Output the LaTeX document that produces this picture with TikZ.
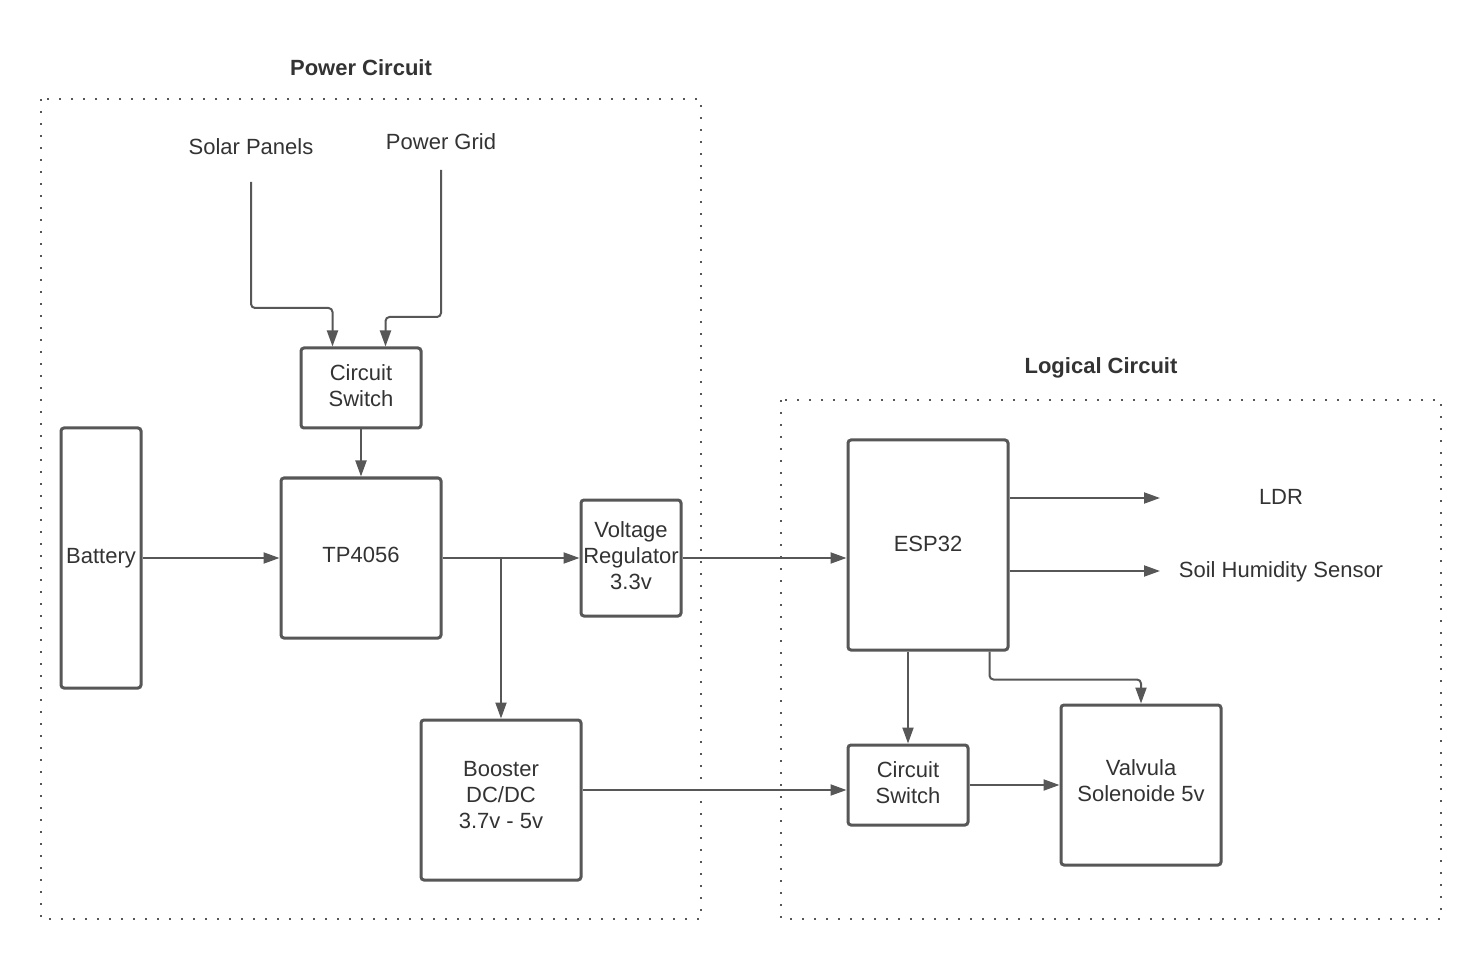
\documentclass[tikz,border=0pt]{standalone}
\usepackage{fontspec}
\setmainfont{Liberation Sans}
\usetikzlibrary{arrows.meta}
\definecolor{lc}{HTML}{575757}
\definecolor{tc}{HTML}{333333}
\newcommand{\liftlines}[2]{\raisebox{#1}[\height][\depth]{\begin{tabular}{@{}c@{}}#2\end{tabular}}}
\begin{document}
\begin{tikzpicture}[x=0.5pt,y=-0.5pt,
  blk/.style={draw=lc,line width=1.5pt,rounded corners=1.5pt,inner sep=0pt,align=center,
              font=\fontsize{11}{13}\selectfont,text=tc},
  lbl/.style={inner sep=0pt,font=\fontsize{11}{13}\selectfont,text=tc},
  ttl/.style={inner sep=0pt,font=\bfseries\fontsize{11}{13}\selectfont,text=tc},
  con/.style={draw=lc,line width=1pt,-{Triangle[length=8pt,width=5.5pt]}},
  grp/.style={draw=lc,line width=1pt,dash pattern=on 0.9pt off 5.1pt}]
\fill[white] (0,0) rectangle (1483,962);
\useasboundingbox (0,0) rectangle (1483,962);

% groups
\draw[grp] (41,99) rectangle (701,919);
\draw[grp] (781,400) rectangle (1441,919);
\node[ttl] (tpow) at (361,68) {Power Circuit};
\node[ttl] (tlog) at (1101,368) {Logical Circuit};

% sources
\node[lbl] (sp) at (251,147) {Solar Panels};
\node[lbl] (pg) at (441,142) {Power Grid};
\coordinate (spend) at (251,182);
\coordinate (pgend) at (441,170);

% blocks
\node[blk,minimum width=60pt,minimum height=40pt] (cs1) at (361,388) {\liftlines{0pt}{Circuit\\Switch}};
\node[blk,minimum width=80pt,minimum height=80pt] (tp) at (361,558) {\liftlines{0.5pt}{TP4056}};
\node[blk,minimum width=40pt,minimum height=130pt] (bat) at (101,558) {Battery};
\node[blk,minimum width=50pt,minimum height=58pt] (vr) at (631,558) {\liftlines{0pt}{Voltage\\Regulator\\3.3v}};
\node[blk,minimum width=80pt,minimum height=80pt] (boost) at (501,800) {\liftlines{1.5pt}{Booster\\DC/DC\\3.7v - 5v}};
\node[blk,minimum width=80pt,minimum height=105pt] (esp) at (928,545) {\liftlines{-0.5pt}{ESP32}};
\node[blk,minimum width=60pt,minimum height=40pt] (cs2) at (908,785) {\liftlines{0pt}{Circuit\\Switch}};
\node[blk,minimum width=80pt,minimum height=80pt] (valv) at (1141,785) {\liftlines{0.75pt}{Valvula\\Solenoide 5v}};

% outputs
\node[lbl] (ldr) at (1281,497) {LDR};
\node[lbl] (soil) at (1281,572) {Soil Humidity Sensor};
\coordinate (ldrin) at (1160,498);
\coordinate (soilin) at (1160,571);

% connectors
\draw[con,rounded corners=2pt] (spend) -- (251,308) -| ([xshift=16.5pt]cs1.north west);
\draw[con,rounded corners=2pt] (pgend) -- (441,317) -| ([xshift=-18.5pt]cs1.north east);
\draw[con] (cs1) -- (tp);
\draw[con] (bat) -- (tp);
\draw[con] (tp) -- (vr);
\coordinate (br) at (501,558);
\draw[con] (br) -- (br |- boost.north);
\draw[con] (vr.east) -- (vr.east -| esp.west);
\draw[con] ([yshift=5pt]boost.east) -- ([yshift=5pt]boost.east -| cs2.west);
\draw[con] (esp.south -| cs2.north) -- (cs2.north);
\draw[con,rounded corners=2pt] ([xshift=-10pt]esp.south east) -- ++(0,28) -| (valv.north);
\draw[con] (cs2) -- (valv);
\draw[con] ([yshift=23.5pt]esp.east) -- (ldrin);
\draw[con] ([yshift=-13pt]esp.east) -- (soilin);
\end{tikzpicture}
\end{document}
